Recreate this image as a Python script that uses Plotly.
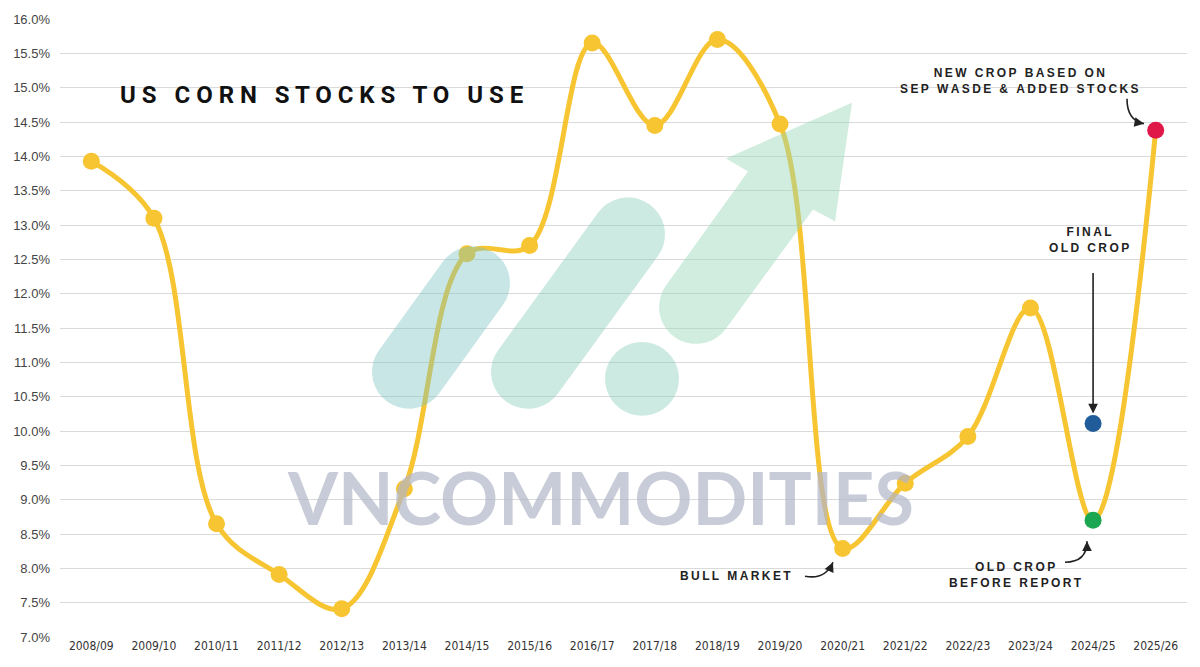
import math
import plotly.graph_objects as go

# ---------------- data ----------------
seasons = ["2008/09", "2009/10", "2010/11", "2011/12", "2012/13", "2013/14",
           "2014/15", "2015/16", "2016/17", "2017/18", "2018/19", "2019/20",
           "2020/21", "2021/22", "2022/23", "2023/24", "2024/25", "2025/26"]
stocks_to_use = [13.93, 13.10, 8.65, 7.91, 7.41, 9.16, 12.58, 12.70, 15.65,
                 14.45, 15.70, 14.47, 8.29, 9.24, 9.92, 11.79, 8.70, 14.38]
old_crop_before = 8.70
final_old_crop = 10.11
new_crop = 14.38
y_ticks = [7.0, 7.5, 8.0, 8.5, 9.0, 9.5, 10.0, 10.5, 11.0, 11.5, 12.0, 12.5,
           13.0, 13.5, 14.0, 14.5, 15.0, 15.5, 16.0]

# ---------------- layout helpers ----------------
W, H = 1200, 667
ML, MR, MT, MB = 60, 13, 17, 30
PW, PH = W - ML - MR, H - MT - MB


def px(x, y):
    """pixel position -> paper coordinates"""
    return (x - ML) / PW, (H - MB - y) / PH


def path_from(points):
    pts = [px(*p) for p in points]
    s = "M {:.5f} {:.5f}".format(*pts[0])
    for p in pts[1:]:
        s += " L {:.5f} {:.5f}".format(*p)
    return s + " Z"


def capsule(a, b, r, k=18):
    dx, dy = b[0] - a[0], b[1] - a[1]
    L = math.hypot(dx, dy)
    d = (dx / L, dy / L)
    n = (-d[1], d[0])
    pts = []
    for i in range(k + 1):
        t = math.radians(-90 + 180 * i / k)
        pts.append((b[0] + r * (math.cos(t) * d[0] + math.sin(t) * n[0]),
                    b[1] + r * (math.cos(t) * d[1] + math.sin(t) * n[1])))
    for i in range(k + 1):
        t = math.radians(-90 + 180 * i / k)
        pts.append((a[0] + r * (-math.cos(t) * d[0] - math.sin(t) * n[0]),
                    a[1] + r * (-math.cos(t) * d[1] - math.sin(t) * n[1])))
    return pts


def circle(c, r, k=40):
    return [(c[0] + r * math.cos(2 * math.pi * i / k),
             c[1] + r * math.sin(2 * math.pi * i / k)) for i in range(k)]


def spaced(s, sep="\u2009"):
    return sep.join(list(s))


GOLD = "#F7C531"

fig = go.Figure()

fig.add_trace(go.Scatter(
    x=seasons, y=stocks_to_use, mode="lines",
    line=dict(color=GOLD, width=5, shape="spline", smoothing=1.0),
    hoverinfo="skip", showlegend=False))
fig.add_trace(go.Scatter(
    x=seasons[:-2], y=stocks_to_use[:-2], mode="markers",
    marker=dict(color=GOLD, size=17),
    showlegend=False))
fig.add_trace(go.Scatter(
    x=[seasons[-2]], y=[old_crop_before], mode="markers",
    marker=dict(color="#1BA651", size=17), showlegend=False))
fig.add_trace(go.Scatter(
    x=[seasons[-2]], y=[final_old_crop], mode="markers",
    marker=dict(color="#1F5C99", size=17), showlegend=False))
fig.add_trace(go.Scatter(
    x=[seasons[-1]], y=[new_crop], mode="markers",
    marker=dict(color="#E0184A", size=17), showlegend=False))

# ---------------- watermark logo (decoration) ----------------
shapes = []
logo = [
    (capsule((409, 371), (473, 282), 37), "rgba(125,195,195,0.42)"),
    (capsule((528, 371), (628, 233), 37), "rgba(135,205,185,0.42)"),
    (circle((642, 378), 37), "rgba(135,205,185,0.42)"),
]
ar = []
c1 = (696, 306)
d = (0.583, -0.812)
n = (0.812, 0.583)
r = 37
for i in range(19):
    t = math.radians(-90 + 180 * i / 18)
    ar.append((c1[0] + r * (-math.cos(t) * d[0] - math.sin(t) * n[0]),
               c1[1] + r * (-math.cos(t) * d[1] - math.sin(t) * n[1])))
ar = [(813, 208), (835, 220), (852, 101), (726, 157), (748, 170)] + ar[::-1]
logo.append((ar, "rgba(150,215,185,0.45)"))
for pts, col in logo:
    shapes.append(dict(type="path", xref="paper", yref="paper",
                       path=path_from(pts), fillcolor=col,
                       line=dict(width=0), layer="above"))


def curve_arrow(p0, c, p1):
    a0, a1, a2 = px(*p0), px(*c), px(*p1)
    shapes.append(dict(type="path", xref="paper", yref="paper",
                       path="M {:.5f} {:.5f} Q {:.5f} {:.5f} {:.5f} {:.5f}".format(*a0, *a1, *a2),
                       line=dict(color="#222", width=1.6), layer="above"))
    tx, ty = p1[0] - c[0], p1[1] - c[1]
    L = math.hypot(tx, ty)
    return dict(xref="paper", yref="paper", x=a2[0], y=a2[1],
                ax=-tx / L * 6, ay=-ty / L * 6, axref="pixel", ayref="pixel",
                text="", showarrow=True, arrowhead=2, arrowsize=1.2,
                arrowwidth=1.6, arrowcolor="#222")


LBL = dict(family="Liberation Sans, Arial, sans-serif", size=12, color="#222", weight="bold")

annotations = []
annotations.append(curve_arrow((1127, 97), (1127, 119), (1144, 122)))
annotations.append(curve_arrow((805, 576), (825, 580), (833, 562)))
annotations.append(curve_arrow((1065, 562), (1087, 562), (1087, 541)))

annotations += [
    dict(xref="paper", yref="paper", x=px(321, 93)[0], y=px(321, 93)[1],
         text="U S   C O R N   S T O C K S   T O   U S E",
         showarrow=False, xanchor="center", yanchor="middle",
         font=dict(family="Roboto, sans-serif", size=24, color="#111",
                   weight="bold")),
    dict(xref="paper", yref="paper", x=px(600, 497)[0], y=px(600, 497)[1],
         text="VNCOMMODITIES", showarrow=False, xanchor="center", yanchor="middle",
         font=dict(family="Lato, Open Sans, sans-serif", size=72,
                   color="rgba(176,181,199,0.7)", weight="bold")),
    dict(xref="paper", yref="paper", x=px(1019, 79)[0], y=px(1019, 79)[1],
         text=spaced("NEW CROP BASED ON") + "<br>" + spaced("SEP WASDE & ADDED STOCKS"),
         showarrow=False, xanchor="center", yanchor="middle", font=LBL),
    dict(xref="paper", yref="paper", x=px(1089, 239)[0], y=px(1089, 239)[1],
         text=spaced("FINAL") + "<br>" + spaced("OLD CROP"),
         showarrow=False, xanchor="center", yanchor="middle", font=LBL),
    dict(xref="paper", yref="paper", x=px(735, 576)[0], y=px(735, 576)[1],
         text=spaced("BULL MARKET"),
         showarrow=False, xanchor="center", yanchor="middle", font=LBL),
    dict(xref="paper", yref="paper", x=px(1015, 575)[0], y=px(1015, 575)[1],
         text=spaced("OLD CROP") + "<br>" + spaced("BEFORE REPORT"),
         showarrow=False, xanchor="center", yanchor="middle", font=LBL),
    dict(x=seasons[-2], y=final_old_crop, xref="x", yref="y",
         ax=0, ay=-152, axref="pixel", ayref="pixel", text="",
         showarrow=True, arrowhead=2, arrowsize=1.2, arrowwidth=1.6,
         arrowcolor="#222", standoff=10),
]

fig.update_layout(
    width=W, height=H,
    margin=dict(l=ML, r=MR, t=MT, b=MB),
    paper_bgcolor="white", plot_bgcolor="white",
    shapes=shapes, annotations=annotations,
    showlegend=False,
    xaxis=dict(type="category", range=[-0.5, len(seasons) - 0.5],
               showgrid=False, zeroline=False, showline=False, ticks="",
               tickfont=dict(family="Liberation Sans Narrow, DejaVu Sans Condensed, Arial Narrow, sans-serif",
                             size=12, color="#333")),
    yaxis=dict(range=[7.0, 16.0], tickvals=y_ticks,
               ticktext=["{:.1f}%".format(v) for v in y_ticks],
               showgrid=True, gridcolor="#DADADA", gridwidth=1,
               zeroline=False, showline=False, ticks="",
               ticklabelstandoff=9,
               tickfont=dict(family="Liberation Sans, Arial, sans-serif",
                             size=13, color="#444")),
)

fig.write_html("out.html")
